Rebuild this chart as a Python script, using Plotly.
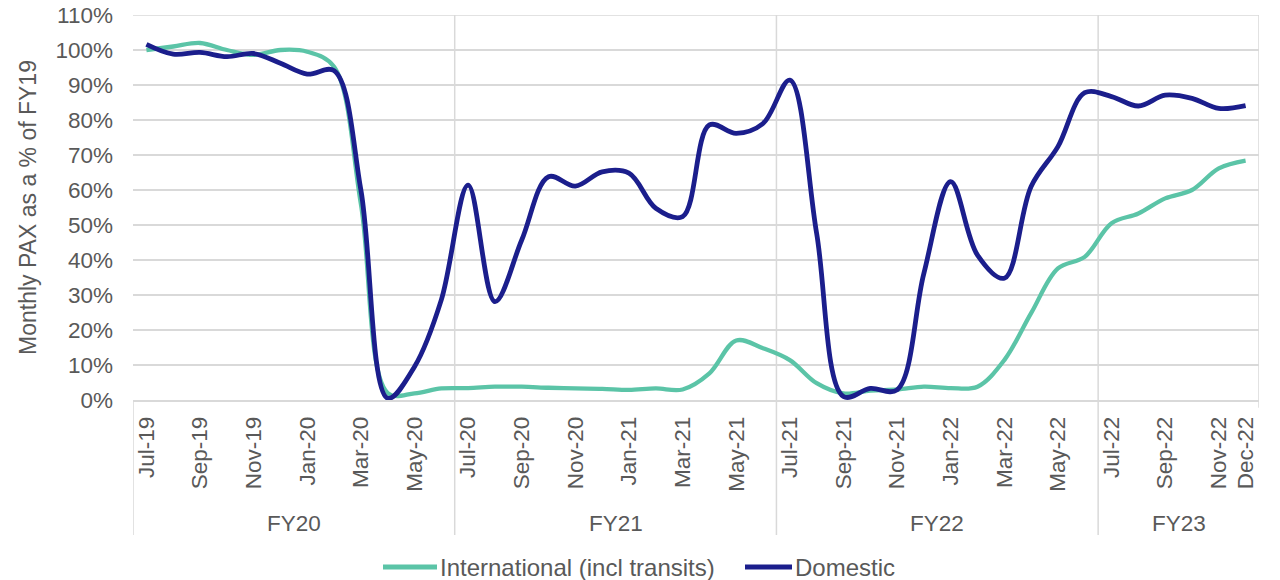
import plotly.graph_objects as go

months = ["Jul-19", "Aug-19", "Sep-19", "Oct-19", "Nov-19", "Dec-19", "Jan-20", "Feb-20", "Mar-20", "Apr-20", "May-20", "Jun-20",
          "Jul-20", "Aug-20", "Sep-20", "Oct-20", "Nov-20", "Dec-20", "Jan-21", "Feb-21", "Mar-21", "Apr-21", "May-21", "Jun-21",
          "Jul-21", "Aug-21", "Sep-21", "Oct-21", "Nov-21", "Dec-21", "Jan-22", "Feb-22", "Mar-22", "Apr-22", "May-22", "Jun-22",
          "Jul-22", "Aug-22", "Sep-22", "Oct-22", "Nov-22", "Dec-22"]

fiscal_years = ["FY20", "FY21", "FY22", "FY23"]
fy_month_counts = [12, 12, 12, 6]

international = [100.0, 101.0, 102.0, 100.0, 98.6, 100.0, 99.5, 95.2, 56.0, 2.0, 1.9, 3.3,
                 3.4, 3.8, 3.8, 3.5, 3.3, 3.2, 2.9, 3.3, 3.0, 7.6, 17.0, 14.8,
                 11.4, 4.8, 1.9, 2.7, 3.0, 3.8, 3.4, 3.8, 11.4, 24.8, 37.6, 40.9,
                 50.5, 53.3, 57.6, 60.0, 66.2, 68.4]

domestic = [101.6, 98.8, 99.3, 98.1, 99.0, 96.2, 93.1, 94.1, 60.0, 0.5, 9.5, 28.6,
            61.4, 28.1, 45.7, 63.8, 61.1, 65.2, 64.8, 54.8, 52.4, 78.6, 76.2, 79.0,
            91.4, 47.6, 1.0, 3.3, 2.9, 36.2, 62.4, 41.4, 34.8, 61.0, 72.4, 87.8,
            86.7, 84.0, 87.1, 86.2, 83.3, 84.1]

labelled_months = ["Jul-19", "Sep-19", "Nov-19", "Jan-20", "Mar-20", "May-20",
                   "Jul-20", "Sep-20", "Nov-20", "Jan-21", "Mar-21", "May-21",
                   "Jul-21", "Sep-21", "Nov-21", "Jan-22", "Mar-22", "May-22",
                   "Jul-22", "Sep-22", "Nov-22", "Dec-22"]

series_names = ["International (incl transits)", "Domestic"]
series_colors = ["#5BC4A7", "#1B1E8C"]

FONT = "Liberation Sans, Arial, sans-serif"
TXT = "#595959"
GRID = "#D9D9D9"
FS = 22.5

x_idx = list(range(len(months)))

fig = go.Figure()
for name, vals, col, w in zip(series_names, [international, domestic], series_colors, [4.3, 4.8]):
    fig.add_trace(go.Scatter(x=x_idx, y=vals, mode="lines", name=name,
                             line=dict(color=col, width=w, shape="spline", smoothing=1.0),
                             showlegend=False, hoverinfo="x+y"))

tickvals = [months.index(m) for m in labelled_months]

fig.update_layout(
    width=1280, height=580, autosize=False,
    margin=dict(l=133, r=21, t=15, b=180, autoexpand=False),
    paper_bgcolor="white", plot_bgcolor="white",
    font=dict(family=FONT, size=FS, color=TXT),
    xaxis=dict(range=[-0.5, len(months) - 0.5], tickmode="array", tickvals=tickvals, ticktext=labelled_months,
               tickangle=-90, showgrid=False, zeroline=False, showline=True, linecolor=GRID, linewidth=1.5,
               ticks="", ticklabelstandoff=6, tickfont=dict(size=FS, color=TXT), automargin=False),
    yaxis=dict(range=[0, 110], tick0=0, dtick=10, ticksuffix="%", showgrid=True, gridcolor=GRID, gridwidth=1.5,
               zeroline=False, showline=False, ticks="", ticklabelstandoff=19, automargin=False,
               tickfont=dict(size=FS, color=TXT),
               title=dict(text="Monthly PAX as a % of FY19", font=dict(size=23, color=TXT), standoff=12)),
)

# top gridline at the axis maximum (110%)
fig.add_shape(type="line", xref="paper", yref="y", x0=0, x1=1, y0=110, y1=110,
              line=dict(color=GRID, width=1.5), layer="below")

# FY group separators and labels
bottom = -0.3506
boundaries = [-0.5]
for n in fy_month_counts:
    boundaries.append(boundaries[-1] + n)
for i, b in enumerate(boundaries):
    last = i == len(boundaries) - 1
    y0 = 0 if i == 0 else 1
    y1 = -0.02 if last else bottom
    fig.add_shape(type="line", xref="x", yref="paper", x0=b, x1=b, y0=y0, y1=y1,
                  line=dict(color=GRID, width=1.5), layer="below")
for fy, a, b in zip(fiscal_years, boundaries[:-1], boundaries[1:]):
    fig.add_annotation(x=(a + b) / 2, y=-0.3195, xref="x", yref="paper", text=fy, showarrow=False,
                       font=dict(size=FS, color=TXT), xanchor="center", yanchor="middle")

# Custom legend
legend_items = [(383, 437, 440), (745, 792, 795)]
W = 1126.0
ly = (400 - 567) / 385
for (lx0, lx1, tx), name, col in zip(legend_items, series_names, series_colors):
    fig.add_shape(type="line", xref="paper", yref="paper",
                  x0=(lx0 - 133) / W, x1=(lx1 - 133) / W, y0=ly, y1=ly,
                  line=dict(color=col, width=5))
    fig.add_annotation(x=(tx - 133) / W, y=ly, xref="paper", yref="paper", text=name,
                       showarrow=False, xanchor="left", yanchor="middle", xshift=-2,
                       font=dict(size=24, color=TXT))

fig.write_html("out.html")
